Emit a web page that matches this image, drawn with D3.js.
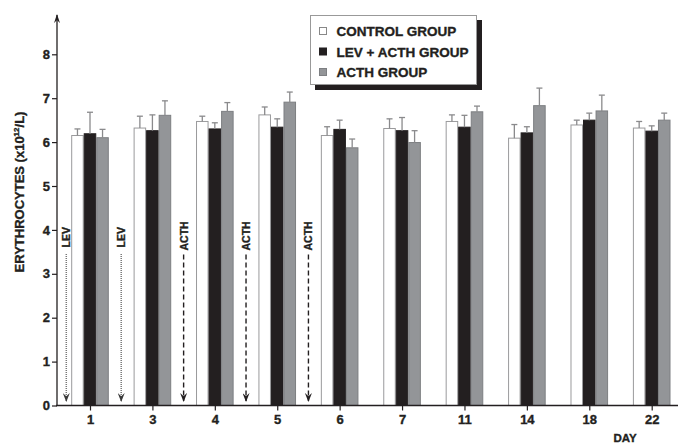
<!DOCTYPE html>
<html>
<head>
<meta charset="utf-8">
<script src="https://cdn.jsdelivr.net/npm/d3@7"></script>
<style>
  html, body { margin: 0; padding: 0; background: #fff; }
  svg { display: block; }
  text { font-family: "Liberation Sans", Arial, Helvetica, sans-serif; font-weight: bold; fill: #231f20;
         stroke: #231f20; stroke-width: 0.35px; }
</style>
</head>
<body>
<script>
// Sampling days
const days = ["1", "3", "4", "5", "6", "7", "11", "14", "18", "22"];
const groups = ["CONTROL GROUP", "LEV + ACTH GROUP", "ACTH GROUP"];

// Mean erythrocyte counts (x10^12/L) and SD for each group
const controlMean = [6.15, 6.32, 6.47, 6.62, 6.15, 6.31, 6.47, 6.09, 6.39, 6.32];
const controlSD   = [0.15, 0.27, 0.12, 0.18, 0.20, 0.22, 0.15, 0.31, 0.11, 0.15];
const levActhMean = [6.19, 6.26, 6.30, 6.34, 6.29, 6.26, 6.34, 6.21, 6.50, 6.25];
const levActhSD   = [0.49, 0.36, 0.14, 0.19, 0.21, 0.30, 0.27, 0.14, 0.16, 0.12];
const acthMean    = [6.10, 6.61, 6.70, 6.91, 5.87, 5.99, 6.69, 6.83, 6.71, 6.50];
const acthSD      = [0.19, 0.33, 0.20, 0.23, 0.20, 0.27, 0.13, 0.40, 0.36, 0.16];

const yTicks = [0, 1, 2, 3, 4, 5, 6, 7, 8];

// Drug administration markers: position in day-steps relative to day 1
const doses = [
  { label: "LEV",  step: -0.38, drug: "lev" },
  { label: "LEV",  step: 0.5,   drug: "lev" },
  { label: "ACTH", step: 1.5,   drug: "acth" },
  { label: "ACTH", step: 2.5,   drug: "acth" },
  { label: "ACTH", step: 3.5,   drug: "acth" }
];

const series = [
  { name: groups[0], mean: controlMean, sd: controlSD, fill: "#ffffff", stroke: "#9a9a9c" },
  { name: groups[1], mean: levActhMean, sd: levActhSD, fill: "#231f20", stroke: "#231f20" },
  { name: groups[2], mean: acthMean,    sd: acthSD,    fill: "#939598", stroke: "#7d7f82" }
];

const W = 678, H = 445;
const svg = d3.select("body").append("svg").attr("width", W).attr("height", H);

const axisX0 = 57, axisY0 = 405.5;
const y = d3.scaleLinear().domain([0, 8]).range([axisY0, 54.3]);
const x = d3.scalePoint().domain(days).range([90, 651.7]);
const step = x.step();
const xSub = d3.scaleBand().domain(groups).range([-18.8, 18.8]);

// Arrow markers (drawn pointing along +x, rotated to the line direction)
const defs = svg.append("defs");
function arrowHead(id, color, w, h) {
  defs.append("marker").attr("id", id)
    .attr("viewBox", "0 0 10 10").attr("refX", 9).attr("refY", 5)
    .attr("markerWidth", w).attr("markerHeight", h)
    .attr("orient", "auto").attr("markerUnits", "userSpaceOnUse")
    .attr("preserveAspectRatio", "none")
    .append("path").attr("d", "M0,0 L10,5 L0,10 L3.5,5 Z").attr("fill", color);
}
arrowHead("headDark", "#231f20", 9, 7);
arrowHead("headGray", "#3a3a3a", 9, 7);
arrowHead("headAxis", "#231f20", 9, 6);

// Bars
const gBars = svg.append("g");
series.forEach(s => {
  const g = gBars.append("g");
  days.forEach((d, i) => {
    const bx = x(d) + xSub(s.name);
    const bw = xSub.bandwidth();
    g.append("rect")
      .attr("x", bx + 0.5).attr("y", y(s.mean[i]))
      .attr("width", bw - 1).attr("height", y(0) - y(s.mean[i]))
      .attr("fill", s.fill).attr("stroke", s.stroke).attr("stroke-width", 1);
    const cx = bx + bw / 2;
    const top = y(s.mean[i] + s.sd[i]);
    g.append("line")
      .attr("x1", cx).attr("x2", cx).attr("y1", y(s.mean[i])).attr("y2", top)
      .attr("stroke", "#8a8a8c").attr("stroke-width", 1.3);
    g.append("line")
      .attr("x1", cx - 3).attr("x2", cx + 3).attr("y1", top).attr("y2", top)
      .attr("stroke", "#8a8a8c").attr("stroke-width", 1.3);
  });
});

// Dosing arrows with labels
const gDose = svg.append("g");
doses.forEach(dz => {
  const ax = x(days[0]) + dz.step * step;
  const isLev = dz.drug === "lev";
  gDose.append("line")
    .attr("x1", ax).attr("x2", ax)
    .attr("y1", y(isLev ? 3.45 : 3.44)).attr("y2", y(0.1))
    .attr("stroke", isLev ? "#777" : "#231f20")
    .attr("stroke-width", isLev ? 1.5 : 1.4)
    .attr("stroke-dasharray", isLev ? "1,1" : "5,3")
    .attr("marker-end", isLev ? "url(#headGray)" : "url(#headDark)");
  gDose.append("text")
    .attr("transform", `translate(${ax + 4},${y(isLev ? 3.6 : 3.53)}) rotate(-90)`)
    .attr("font-size", 10.5)
    .text(dz.label);
});

// Y axis
const yAxis = d3.axisLeft(y).tickValues(yTicks).tickSize(5).tickPadding(2).tickFormat(d3.format("d"));
const gy = svg.append("g").attr("transform", `translate(${axisX0},0)`).call(yAxis);
gy.select(".domain").remove();
gy.selectAll(".tick line").attr("stroke", "#231f20").attr("stroke-width", 1.2);
gy.selectAll(".tick text").attr("font-size", 13).attr("font-family", null).attr("fill", "#231f20");
svg.append("line")
  .attr("x1", axisX0).attr("x2", axisX0).attr("y1", axisY0 + 0.5).attr("y2", 15)
  .attr("stroke", "#231f20").attr("stroke-width", 1.3)
  .attr("marker-end", "url(#headAxis)");

// X axis
const xAxis = d3.axisBottom(x).tickSize(5).tickPadding(4).tickSizeOuter(0);
const gx = svg.append("g").attr("transform", `translate(0,${axisY0})`).call(xAxis);
gx.select(".domain").remove();
gx.selectAll(".tick line").attr("stroke", "#231f20").attr("stroke-width", 1.2);
gx.selectAll(".tick text").attr("font-size", 13).attr("font-family", null).attr("fill", "#231f20");
svg.append("line")
  .attr("x1", axisX0 - 1).attr("x2", 678).attr("y1", axisY0).attr("y2", axisY0)
  .attr("stroke", "#231f20").attr("stroke-width", 1.3);

svg.append("text").attr("x", 625).attr("y", 442).attr("text-anchor", "middle")
  .attr("font-size", 11.5).text("DAY");

// Y axis title
const yt = svg.append("text")
  .attr("transform", `translate(24,192) rotate(-90)`)
  .attr("text-anchor", "middle").attr("font-size", 13);
yt.append("tspan").text("ERYTHROCYTES (x10");
yt.append("tspan").attr("font-size", 8).attr("dy", -5).text("12");
yt.append("tspan").attr("dy", 5).text("/L)");

// Legend
const lg = svg.append("g").attr("transform", "translate(310,15)");
lg.append("rect").attr("x", 5).attr("y", 5).attr("width", 167).attr("height", 70).attr("fill", "#231f20");
lg.append("rect").attr("x", 0.5).attr("y", 0.5).attr("width", 166).attr("height", 69)
  .attr("fill", "#fff").attr("stroke", "#999").attr("stroke-width", 1);
series.forEach((s, i) => {
  const ly = 16 + i * 20.5;
  lg.append("rect").attr("x", 9.5).attr("y", ly - 3.5).attr("width", 7).attr("height", 7)
    .attr("fill", s.fill).attr("stroke", s.name === groups[0] ? "#888" : s.stroke);
  lg.append("text").attr("x", 26.5).attr("y", ly + 5).attr("font-size", 13.5).text(s.name);
});
</script>
</body>
</html>
